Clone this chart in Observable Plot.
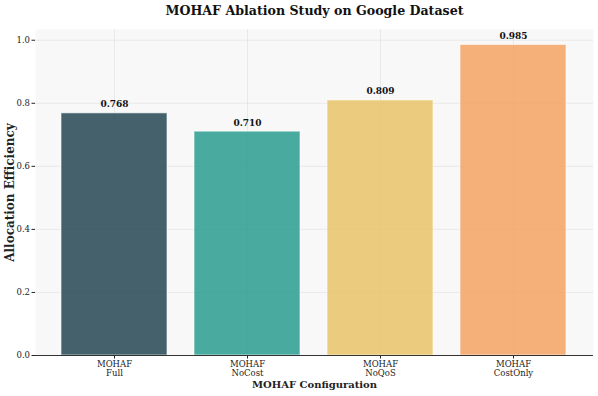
<!DOCTYPE html>
<html>
<head>
<meta charset="utf-8">
<script src="https://cdn.jsdelivr.net/npm/d3@7"></script>
<script src="https://cdn.jsdelivr.net/npm/@observablehq/plot@0.6"></script>
<style>
  html, body { margin: 0; padding: 0; background: #ffffff; }
  svg { font-family: "DejaVu Serif", serif; }
  svg [aria-label="y-axis label"] text { font-weight: bold; font-size: 12px; }
  svg [aria-label="x-axis label"] text { font-weight: bold; font-size: 10px; }
</style>
</head>
<body>
<div id="chart"></div>
<script>
const categories = ["Full", "NoCost", "NoQoS", "CostOnly"];
const values = [0.768, 0.710, 0.809, 0.985];
const colors = ["#264653", "#2a9d8f", "#e9c46a", "#f4a261"];
const yTicks = [0, 0.2, 0.4, 0.6, 0.8, 1.0];
const title = "MOHAF Ablation Study on Google Dataset";
const xLabel = "MOHAF Configuration";
const yLabel = "Allocation Efficiency";

const data = categories.map((c, i) => ({cat: c, value: values[i], color: colors[i]}));

const chart = Plot.plot({
  width: 598,
  height: 396,
  marginTop: 29,
  marginBottom: 41,
  marginLeft: 35,
  marginRight: 5,
  style: {fontFamily: "DejaVu Serif, serif", fontSize: "8.5px", background: "#ffffff", color: "#222"},
  x: {domain: categories, paddingInner: 0.2, paddingOuter: 0.19},
  y: {domain: [0, 1.034]},
  color: {type: "identity"},
  marks: [
    Plot.frame({fill: "#f8f8f8", stroke: null}),
    Plot.gridY(yTicks, {stroke: "#dddddd", strokeOpacity: 0.7, strokeWidth: 0.8}),
    Plot.gridX(categories, {stroke: "#dddddd", strokeOpacity: 0.7, strokeWidth: 0.8}),
    Plot.barY(data, {x: "cat", y: "value", fill: "color", fillOpacity: 0.85, stroke: "#ffffff", strokeOpacity: 0.6, strokeWidth: 1}),
    Plot.text(data, {x: "cat", y: "value", text: d => d.value.toFixed(3), dy: -9, fontWeight: "bold", fontSize: 9, fill: "#111"}),
    Plot.axisY(yTicks, {tickFormat: d => d.toFixed(1), tickSize: 3.5, tickPadding: 2, label: yLabel, labelAnchor: "center", labelArrow: "none", labelOffset: 30, fontSize: 8.5}),
    Plot.axisX(categories, {tickFormat: d => "MOHAF\n" + d, tickSize: 3.5, tickPadding: 2, label: xLabel, labelAnchor: "center", labelArrow: "none", labelOffset: 32, fontSize: 8.5}),
    Plot.ruleY([0], {stroke: "#333", strokeWidth: 1.2}),
    Plot.ruleX([0], {x: () => null, stroke: "#333", strokeWidth: 1.2, frameAnchor: "left"}),
    Plot.text([title], {frameAnchor: "top", dy: -23, fontWeight: "bold", fontSize: 12.6, fill: "#111"})
  ]
});
document.getElementById("chart").appendChild(chart);
</script>
</body>
</html>
